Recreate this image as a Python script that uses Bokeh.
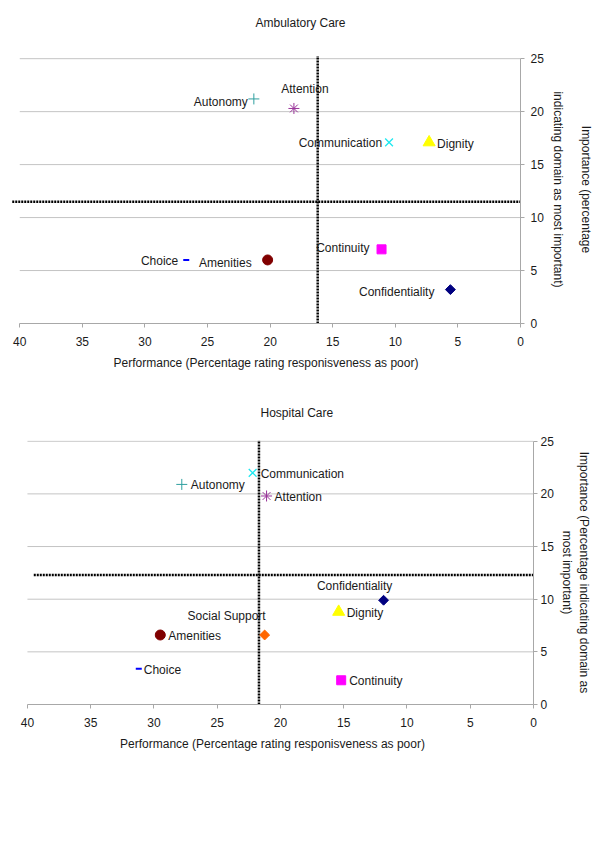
import math
from bokeh.plotting import figure
from bokeh.layouts import column
from bokeh.models import Range1d, FixedTicker, Title
from bokeh.core.properties import value
from bokeh.embed import file_html
from bokeh.resources import INLINE

# ---------------- data ----------------
x_ticks = [0, 5, 10, 15, 20, 25, 30, 35, 40]
y_ticks = [0, 5, 10, 15, 20, 25]

amb_categories = ["Autonomy", "Attention", "Communication", "Dignity",
                  "Continuity", "Choice", "Amenities", "Confidentiality"]
amb_performance = [21.3, 18.1, 10.5, 7.3, 11.1, 26.7, 20.2, 5.6]
amb_importance = [21.2, 20.3, 17.1, 17.1, 7.0, 6.0, 6.0, 3.2]
amb_perf_mean = 16.2
amb_imp_mean = 11.5
amb_hline_span = [40.6, 0]
amb_vline_span = [0, 25.25]

hosp_categories = ["Communication", "Autonomy", "Attention", "Confidentiality",
                   "Dignity", "Social Support", "Amenities", "Choice", "Continuity"]
hosp_performance = [22.2, 27.8, 21.1, 11.85, 15.4, 21.25, 29.5, 31.2, 15.2]
hosp_importance = [22.0, 20.9, 19.8, 9.9, 8.8, 6.6, 6.6, 3.4, 2.3]
hosp_perf_mean = 21.7
hosp_imp_mean = 12.3
hosp_hline_span = [39.5, 0]
hosp_vline_span = [0, 25.1]

# ---------------- styles ----------------
FONT = "Liberation Sans"
TEXT_COLOR = "#1a1a1a"
STYLE = {
    "Autonomy": dict(marker="cross", color="#2f9f9f", size=11, line_only=True),
    "Attention": dict(marker="asterisk", color="#993399", size=11, line_only=True),
    "Communication": dict(marker="x", color="#1ee8f0", size=11, line_only=True, lw=1.3),
    "Dignity": dict(marker="triangle", color="#ffff00", size=12),
    "Continuity": dict(marker="square", color="#ff00ff", size=9),
    "Choice": dict(marker="dash", color="#0000ff", size=6, line_only=True, lw=2),
    "Amenities": dict(marker="circle", color="#800000", size=10),
    "Confidentiality": dict(marker="square", color="#000080", size=7, angle=math.pi / 4),
    "Social Support": dict(marker="square", color="#ff6600", size=7, angle=math.pi / 4),
}
# (text_align, x pixel offset, y pixel offset)
AMB_LABELS = {
    "Autonomy": ("right", -6, 3), "Attention": ("center", 11, -19),
    "Communication": ("right", -7, 1), "Dignity": ("left", 8, 2),
    "Continuity": ("right", -12, -1), "Choice": ("right", -8, 1),
    "Amenities": ("right", -16, 3), "Confidentiality": ("right", -16, 2),
}
HOSP_LABELS = {
    "Communication": ("left", 8, 1), "Autonomy": ("left", 9, 1),
    "Attention": ("left", 8, 1), "Confidentiality": ("center", -29, -14),
    "Dignity": ("left", 8, 1), "Social Support": ("right", 1, -19),
    "Amenities": ("left", 8, 1), "Choice": ("left", 5, 1),
    "Continuity": ("left", 8, 1),
}


def make_chart(title, title_offset, title_standoff, spacer_size, cats, perf,
               imp, perf_mean, imp_mean, hspan, vspan, labels, x_start, y_end,
               frame_w, frame_h, border_top, border_bottom, border_right,
               ylabel, ylabel_lh, tick_standoff_y, label_standoff_y):
    p = figure(frame_width=frame_w, frame_height=frame_h, title=None,
               x_range=Range1d(x_start, 0), y_range=Range1d(0, y_end),
               y_axis_location="right", toolbar_location=None,
               output_backend="svg", min_border_left=11,
               min_border_top=border_top, min_border_bottom=border_bottom,
               min_border_right=border_right)
    p.outline_line_color = None
    p.xgrid.visible = False
    p.ygrid.visible = False

    # spacer (closest to the frame) then the visible title above it
    p.add_layout(Title(text=" ", standoff=0, text_font=FONT,
                       text_font_size=spacer_size), "above")
    p.add_layout(Title(text=title, align="left", offset=title_offset,
                       standoff=title_standoff, text_font=FONT,
                       text_font_size="12px", text_font_style="normal",
                       text_color=TEXT_COLOR), "above")

    # grid lines, only across the axis extent
    gy = [t for t in y_ticks if t > 0]
    p.segment(x0=[max(x_ticks)] * len(gy), x1=[min(x_ticks)] * len(gy),
              y0=gy, y1=gy, line_color="#c4c4c4", line_width=1)

    for ax in (p.xaxis[0], p.yaxis[0]):
        ax.axis_line_color = "#a8a8a8"
        ax.major_tick_line_color = "#a8a8a8"
        ax.major_tick_in = 0
        ax.major_tick_out = 4
        ax.minor_tick_line_color = None
        ax.major_label_text_font = FONT
        ax.major_label_text_font_size = "12px"
        ax.major_label_text_color = TEXT_COLOR
        ax.axis_label_text_font = FONT
        ax.axis_label_text_font_size = "12px"
        ax.axis_label_text_font_style = "normal"
        ax.axis_label_text_color = TEXT_COLOR
    p.xaxis.ticker = FixedTicker(ticks=x_ticks)
    p.yaxis.ticker = FixedTicker(ticks=y_ticks)
    p.xaxis.bounds = (min(x_ticks), max(x_ticks))
    p.yaxis.bounds = (min(y_ticks), max(y_ticks))
    p.xaxis.major_label_standoff = 9
    p.xaxis.axis_label_standoff = 7
    p.xaxis.axis_label = "Performance (Percentage rating responisveness as poor)"
    p.yaxis.major_label_standoff = tick_standoff_y
    p.yaxis.axis_label_standoff = label_standoff_y
    p.yaxis.axis_label = ylabel
    p.yaxis.axis_label_text_line_height = ylabel_lh

    # mean reference lines
    p.line(x=hspan, y=[imp_mean, imp_mean], line_color="black",
           line_width=2.5, line_dash="2 1")
    p.line(x=[perf_mean, perf_mean], y=vspan, line_color="black",
           line_width=2.5, line_dash="2 1")

    # points
    for c, xv, yv in zip(cats, perf, imp):
        st = STYLE[c]
        kw = dict(marker=st["marker"], size=st["size"], angle=st.get("angle", 0))
        if st.get("line_only"):
            kw.update(line_color=st["color"], line_width=st.get("lw", 1),
                      fill_color=None)
        else:
            kw.update(line_color=st["color"], fill_color=st["color"])
        p.scatter(x=[xv], y=[yv], **kw)

        align, dx, dy = labels[c]
        p.text(x=[xv], y=[yv], text=[c], x_offset=dx, y_offset=dy,
               text_align=align, text_baseline="middle",
               text_font=value(FONT), text_font_size="12px",
               text_color=TEXT_COLOR)
    return p


p1 = make_chart("Ambulatory Care", 244, 27, "9px", amb_categories,
                amb_performance, amb_importance, amb_perf_mean, amb_imp_mean,
                amb_hline_span, amb_vline_span, AMB_LABELS,
                40.66, 25.3, 509, 268, 55, 72, 74,
                "Importance (percentage\nindicating domain as most important)",
                2.0, 6, 4)
p2 = make_chart("Hospital Care", 249, 15, "10px", hosp_categories,
                hosp_performance, hosp_importance, hosp_perf_mean,
                hosp_imp_mean, hosp_hline_span, hosp_vline_span, HOSP_LABELS,
                41.26, 25.07, 522, 264, 45, 60, 50,
                "Importance (Percentage indicating domain as\nmost important)",
                1.25, 3, 3)

layout = column(p1, p2, spacing=0)
open("out.html", "w").write(file_html(layout, INLINE))
